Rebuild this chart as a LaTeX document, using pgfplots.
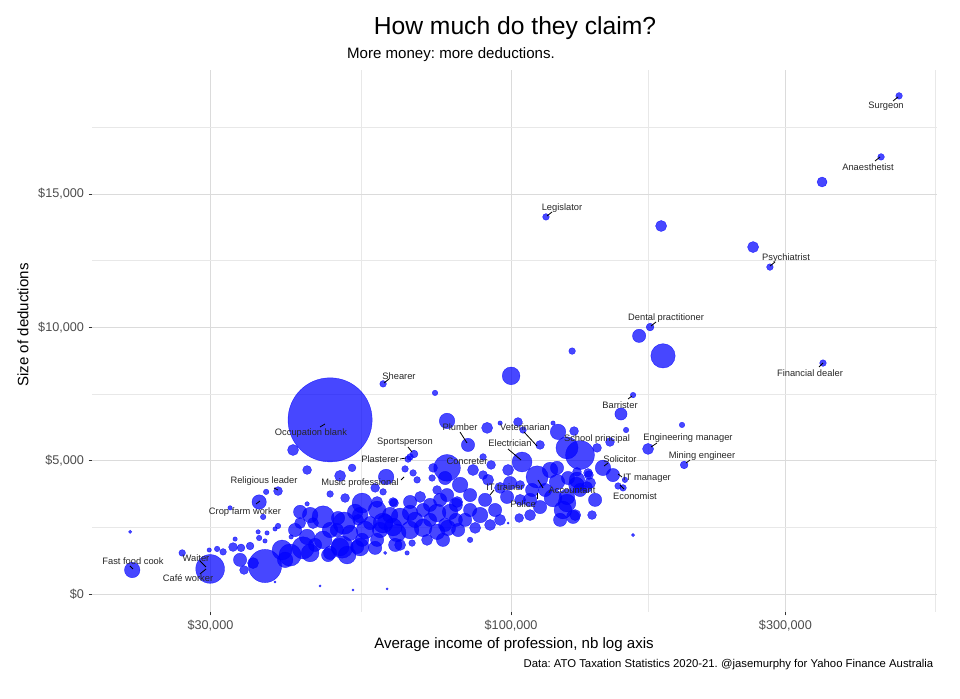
\documentclass[border=0pt]{standalone}
\usepackage{fontspec}
\setmainfont{Liberation Sans}
\usepackage{pgfplots}
\usepackage{pgfplotstable}
\pgfplotsset{compat=1.18}
\frenchspacing

\pgfplotstableread{
inc ded r
48440 6530 38
473000 18680 3
440100 16390 3
347500 15450 4.5
263600 13010 5
282000 12260 3
348800 8660 3
115000 14140 3
182400 13800 5
174500 10010 3.5
167000 9680 6
183800 8930 11
127700 9110 3
100000 8180 8
59900 7880 3
73750 7540 2.5
163000 7460 2.5
155300 6750 5.5
198300 6340 2.5
158500 6150 2.5
173100 5440 5
200000 4840 3.5
144500 4730 7
150400 4460 6
157800 4280 2.5
153500 4050 3
156600 3980 3
148600 5700 4
141100 5480 4
131800 5210 13
125100 5480 10
120700 6080 7
128700 6110 4
118300 6410 2
112300 5590 4
104900 6150 3
102800 6450 4
95700 6410 2
90850 6230 5
77390 6490 7
84160 5590 6
104500 4950 9
77390 4730 12
89390 5140 3
67800 5250 3.5
66730 5140 3
66200 5060 3
60630 4390 7
58020 3980 4
59900 3830 3
62340 3450 4
65400 4690 3
52900 4730 3.5
50420 4430 5
44180 4650 4
41760 5400 5
48440 3750 3
51440 3600 4
44180 3380 2
39330 3860 4
37500 3830 2.5
36460 3450 6.5
37050 2890 2.5
32450 3230 2
21930 900 7
21750 2330 1.5
26790 1540 3
29960 940 13
29850 1650 2
30810 1690 2.5
31560 1580 3
32840 1760 4
33910 1730 3.5
35160 1800 3.5
33110 2060 2
36310 2330 2
36460 2100 2.5
37630 2290 2
37330 1990 2
38860 2440 2
39330 2550 2.5
41440 2140 2
34320 900 4
35580 1160 5
37330 1050 15
39970 1650 9
41270 1460 10
43480 1730 10
47100 2030 8
48440 1540 6
50830 1760 10
51850 1460 8
53980 1760 6
55070 2030 6
38860 450 1
46540 300 1
53100 150 1
60870 190 1
42960 3080 6
44720 2960 7
47100 2890 10
50000 2850 6
51240 2660 10
55070 3410 9
54630 2960 7
58480 3150 8
59900 2660 9
62340 2510 8
64120 2890 8
42960 2660 5
45240 2660 5
44180 2140 7
44720 1540 8
48060 1460 6
50420 1760 8
54630 1760 8
58480 2030 6
64120 1840 5
67270 1910 3
71430 2030 5
76150 2030 6
65940 1540 2
60390 1540 1.5
54200 2780 5
56860 2660 6
60390 2700 7
66730 3450 6
69470 3640 5
74360 3900 4
77390 3710 6
80560 3450 5
66730 3040 7
70310 3150 6
74360 3040 8
78330 3080 7
63370 2290 8
66730 2400 8
70310 2480 8
74360 2330 7
77640 2480 7
59180 2400 7
55730 2400 8
52480 2290 7
49770 2400 6
84860 2030 2.5
85870 4650 5
92310 4840 4
89390 4460 4
98810 4650 5
99600 4160 6
111000 4390 10
103700 4090 4
120200 4730 6
120200 4200 7
125600 4350 6
130200 4580 4
136100 4540 4
137200 4160 5
129900 4090 7
118300 3600 8
125100 3640 7
131800 3900 6
112300 3260 6
107900 3530 6
108800 3900 6
98410 3640 6
123100 3150 8
128200 2890 6
138300 2960 4
103300 2850 4
98810 2660 1
130200 4280 7
135500 4010 5
136600 4460 4
125100 3410 8
129300 2960 5
163000 2210 1.5
76790 4350 6
81530 4090 7
84860 3710 6
90110 3530 6
93800 3150 6
88330 2960 7
83180 2780 6
80150 3340 6
91930 2590 5
95690 3980 5
103700 3530 5
84860 3150 6
80890 2400 6
86590 2480 5
76790 2590 6
75260 3530 6
72300 2780 6
91200 4280 5
58480 3450 5
62590 3410 4
67540 4540 3
68640 4280 3
72880 4350 3
73180 4730 4
48440 2400 7
53550 3080 7
61600 2960 7
68080 2780 7
72300 3340 6
62870 1840 6
58020 1730 6
45610 1840 6
42100 2400 6
40460 1280 7
33780 1280 6
80150 2780 6
95690 2780 5
107900 2960 5
114600 3900 6
116900 4650 7
140000 3530 6
121700 2780 6
}\bubbles

\begin{document}
\begin{tikzpicture}
\useasboundingbox (0,0) rectangle (720pt,524.25pt);
\begin{axis}[
  at={(69pt,65.25pt)}, anchor=south west,
  scale only axis, width=633.75pt, height=406.5pt,
  xmode=log, log basis x=10,
  xmin=18670, xmax=550700, ymin=-675, ymax=19650,
  scaled y ticks=false,
  xtick={30000,100000,300000},
  xticklabels={{\$30,000},{\$100,000},{\$300,000}},
  minor xtick={54772,173205,547723},
  ytick={0,5000,10000,15000},
  yticklabels={{\$0},{\$5,000},{\$10,000},{\$15,000}},
  minor ytick={2500,7500,12500,17500},
  grid=both,
  major grid style={black!14, line width=0.6pt},
  minor grid style={black!9, line width=0.4pt},
  axis line style={draw=none},
  tick align=outside, tick pos=left,
  major tick length=2.5pt, minor tick length=0pt,
  tick style={black!80, line width=0.6pt},
  tick label style={font=\fontsize{9.5}{10}\selectfont, text=black!70},
]
\addplot[scatter, only marks, mark=*,
  scatter/use mapped color={draw=blue, fill=blue},
  mark options={fill opacity=0.72, draw opacity=0.72, line width=0.3pt},
  visualization depends on={0.83*\thisrow{r} \as \msize},
  scatter/@pre marker code/.append style={/tikz/mark size=\msize},
] table[x=inc, y=ded] {\bubbles};
\end{axis}

\begin{scope}[x=0.75pt, y=-0.75pt, yshift=524.25pt]
  % titles
  \node[font=\fontsize{18.5}{20}\selectfont] at (515,28) {How much do they claim?};
  \node[font=\fontsize{11.3}{13}\selectfont] at (451,55) {More money: more deductions.};
  \node[font=\fontsize{11.3}{13}\selectfont] at (514,645) {Average income of profession, nb log axis};
  \node[font=\fontsize{11.3}{13}\selectfont, rotate=90] at (23,325) {Size of deductions};
  \node[font=\fontsize{8.5}{10}\selectfont, anchor=east] at (938,665) {Data: ATO Taxation Statistics 2020-21. @jasemurphy for Yahoo Finance Australia};
  % connectors
  \begin{scope}[black, line width=0.6pt]
  \draw (893,101)--(898,97);
  \draw (875,161)--(880,157);
  \draw (770,266)--(775,262);
  \draw (819,367)--(823,363);
  \draw (547,216)--(552,212);
  \draw (651,326)--(656,322);
  \draw (384,383)--(389,379);
  \draw (628,399)--(632,396);
  \draw (320,427)--(325,424);
  \draw (651,447)--(657,443);
  \draw (686,463)--(690,460);
  \draw (604,466)--(608,463);
  \draw (618,474)--(622,477);
  \draw (620,485)--(624,489);
  \draw (524,432)--(537,446);
  \draw (508,449)--(521,460);
  \draw (460,432)--(467,443);
  \draw (408,447)--(412,452);
  \draw (400,459)--(406,458);
  \draw (401,480)--(404,477);
  \draw (274,488)--(278,490);
  \draw (256,504)--(260,501);
  \draw (130,566)--(133,569);
  \draw (200,561)--(206,567);
  \draw (200,574)--(206,569);
  \draw (538,480)--(543,488);
  \draw (537,493)--(537,499);
  \draw (490,495)--(494,490);
  \end{scope}
  % labels
  \begin{scope}[every node/.style={font=\fontsize{7}{8}\selectfont, text=black!85, inner sep=0pt}]
  \node at (886,106) {Surgeon};
  \node at (868,167) {Anaesthetist};
  \node at (786,258) {Psychiatrist};
  \node at (810,373) {Financial dealer};
  \node at (562,208) {Legislator};
  \node at (666,318) {Dental practitioner};
  \node at (399,376) {Shearer};
  \node at (620,405) {Barrister};
  \node at (311,433) {Occupation blank};
  \node at (688,438) {Engineering manager};
  \node at (702,456) {Mining engineer};
  \node at (620,459) {Solicitor};
  \node at (647,478) {IT manager};
  \node at (635,496) {Economist};
  \node at (597,439) {School principal};
  \node at (525,427) {Veterinarian};
  \node at (510,443) {Electrician};
  \node at (460,427) {Plumber};
  \node at (467,461) {Concreter};
  \node at (405,442) {Sportsperson};
  \node at (380,459) {Plasterer};
  \node at (360,483) {Music professional};
  \node at (264,481) {Religious leader};
  \node at (245,512) {Crop farm worker};
  \node at (133,561) {Fast food cook};
  \node at (196,558) {Waiter};
  \node at (188,578) {Café worker};
  \node at (523,504) {Police};
  \node at (572,490) {Accountant};
  \node at (505,487) {IT trainer};
  \end{scope}
\end{scope}
\end{tikzpicture}
\end{document}
